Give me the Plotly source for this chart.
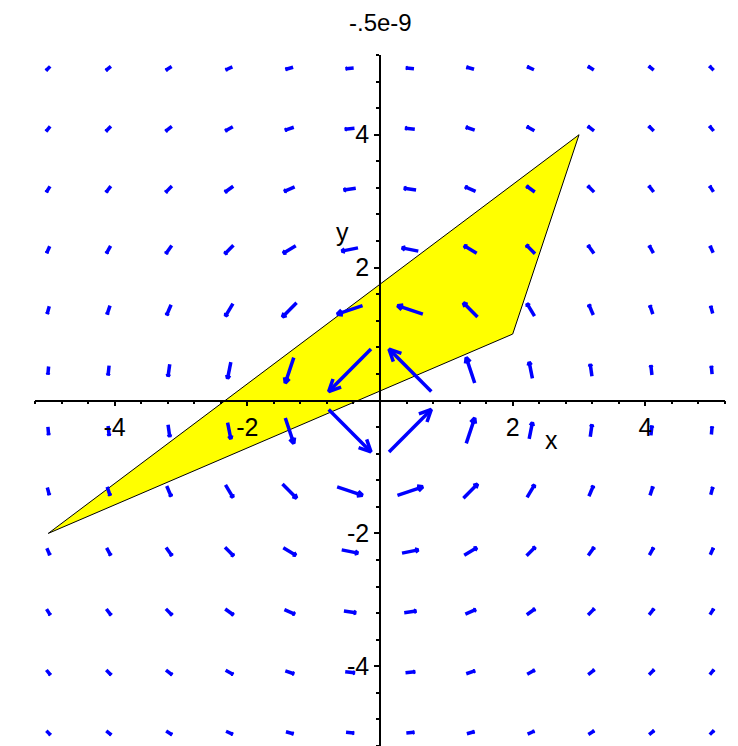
import numpy as np
import plotly.graph_objects as go
import plotly.figure_factory as ff

# grid of the field plot (12 x 12 points from -5 to 5)
grid = [-5.0, -4.0909, -3.1818, -2.2727, -1.3636, -0.4545,
        0.4545, 1.3636, 2.2727, 3.1818, 4.0909, 5.0]

# polygon vertices
poly_x = [-5, 3, 2, -5]
poly_y = [-2, 4, 1, -2]

tick_vals = [-4, -2, 2, 4]
tick_text = ["-4", "-2", "2", "4"]

# field (-y, x)/(x^2+y^2)
gx, gy = np.meshgrid(grid, grid)
r2 = gx**2 + gy**2
u = -gy / r2
v = gx / r2

scale = 0.58
# arrows centred on the grid points
bx = gx - scale * u / 2
by = gy - scale * v / 2

quiv = ff.create_quiver(bx.ravel(), by.ravel(), u.ravel(), v.ravel(),
                        scale=scale, arrow_scale=0.22, angle=0.45,
                        line=dict(color="#0000ff", width=3.5))

fig = go.Figure()
fig.add_trace(go.Scatter(x=poly_x, y=poly_y, mode="lines", fill="toself",
                         fillcolor="#ffff00", line=dict(color="black", width=1),
                         hoverinfo="skip"))
for tr in quiv.data:
    tr.showlegend = False
    fig.add_trace(tr)

font = dict(family="Liberation Sans Narrow, Liberation Sans, Arial", size=25, color="black")

axis_common = dict(
    showgrid=False, zeroline=False, showline=True, linecolor="black", linewidth=1.5,
    tickmode="array", tickvals=tick_vals, ticktext=tick_text,
    ticks="outside", ticklen=5, tickwidth=1.5, tickcolor="black",
    minor=dict(tickmode="linear", tick0=0, dtick=0.4, ticks="outside",
               ticklen=3, tickwidth=1.5, tickcolor="black"),
    tickfont=font, anchor="free", position=0.5, automargin=False,
)

# page body adds an 8px offset, margins compensate for it
fig.update_layout(
    width=738, height=746,
    margin=dict(l=27, r=21, t=47, b=8, autoexpand=False),
    paper_bgcolor="white", plot_bgcolor="white",
    showlegend=False,
    xaxis=dict(range=[-5.2, 5.2], **axis_common),
    yaxis=dict(range=[-5.2, 5.2], **axis_common),
    annotations=[
        dict(x=370/738, y=1 - 15/746, xref="paper", yref="paper", text="-.5e-9",
             showarrow=False, font=dict(font, size=24), xanchor="center", yanchor="middle"),
        dict(x=2.58, y=-0.6, xref="x", yref="y", text="x", showarrow=False, font=font),
        dict(x=-0.56, y=2.54, xref="x", yref="y", text="y", showarrow=False, font=font),
    ],
)
# the title annotation sits above the plot area: convert its position to paper units
fig.layout.annotations[0].y = 1 + (47 - 15) / 691

fig.write_html("out.html")
